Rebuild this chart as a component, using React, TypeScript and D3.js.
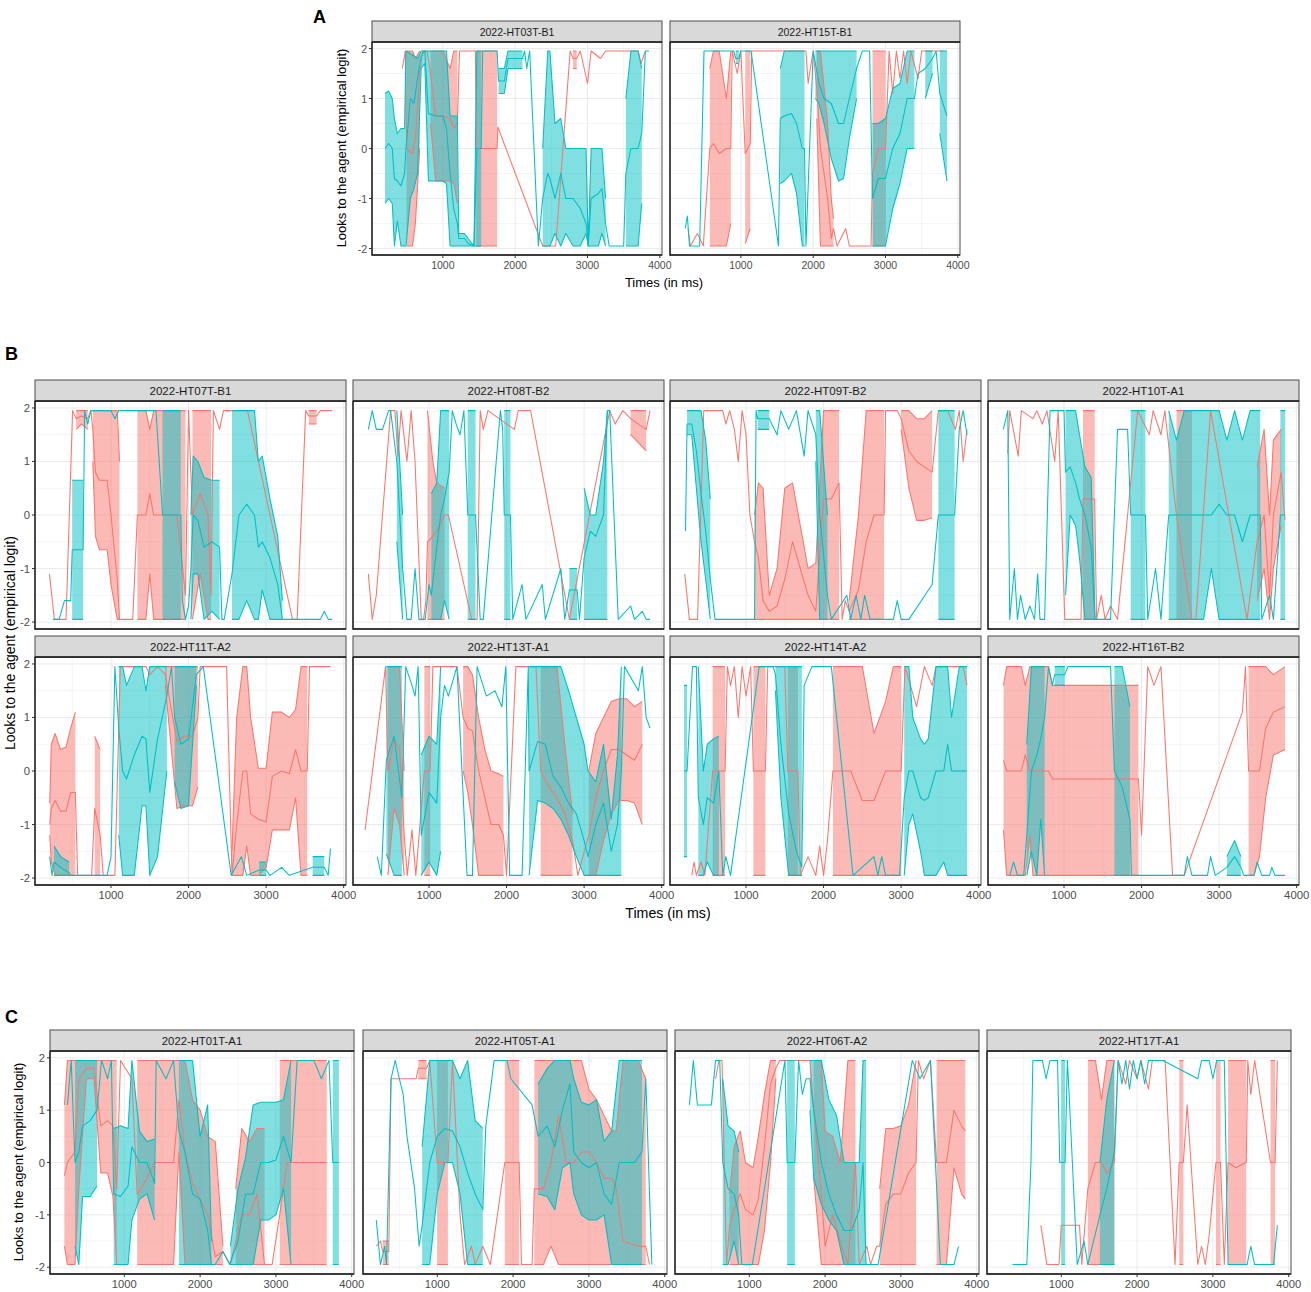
import * as d3 from 'd3';

// empirical-logit ceiling / floor used by the plotted series
const H = 1.95;
const L = -1.95;
type Pt = number[]; // [t, mean] or [t, lo, mean, hi]

// ---- panel A ----
const ht03Red: Pt[] = [[440,1.6],[480,H],[500,L,0,H],[580,L,-0.1,H],[620,-1.5,0.2,1.8],[680,0,1.5,H],[720,H],[780,H],[830,0.5,1.5,H],[900,-0.65,0.65,H],[1000,-0.65,0.65,H],[1100,-0.65,0.6,1.6],[1150,-0.7,0.4,H],[1200,-1.1,0.5,H],[1230,H],[1450,H],[1460,L,0,H],[1600,L,0,H],[1750,L,0,H],[1760,0.43],[2380,L],[2560,L],[2760,H],[2800,1.6,1.8,H],[2850,1.6,1.8,H],[2900,H],[3000,1.3],[3050,H],[3180,1.7,1.8,H],[3250,H],[3700,H],[3740,1.7],[3800,H]];
const ht03Teal: Pt[] = [[200,-1.1,0,1.1],[250,-1.0,0.1,1.15],[300,-1.1,0,1.0],[330,L,-0.6,0.6],[370,-1.45,-0.65,0.3],[420,L,-0.75,0.4],[470,L,-0.5,0.4],[490,L,0,H],[550,-1.0,1.0,1.9],[600,-0.8,0.9,1.85],[650,-0.5,1.4,1.8],[700,1.6,1.85,H],[750,1.7,H,H],[800,-0.65,0.7,H],[900,-0.65,0.65,H],[1000,-0.65,0.65,H],[1050,-0.7,0.4,H],[1100,L,-0.5,0.65],[1150,L,-1.2,0.65],[1200,L,-1.5,0.65],[1220,L,-1.8,-1.7],[1300,L,-1.8,-1.7],[1350,L,-1.9,-1.8],[1430,L,L,L],[1470,L,0,H],[1530,L,0,H],[1550,H],[1750,H],[1770,1.1,1.35,1.6],[1850,1.1,1.35,1.6],[1900,1.6,1.8,H],[2000,1.6,1.8,H],[2100,1.6,1.8,H],[2130,H],[2160,1.6],[2200,H],[2320,L],[2380,L,-1.0,0],[2450,L,-0.5,H],[2480,L,-0.6,H],[2550,-1.7,-1.0,0.5],[2630,L,-0.5,0.6],[2700,-1.7,-1.0,0],[2800,L,-1.0,0],[2900,L,-1.2,0],[2980,-1.7,-1.5,0],[3010,L,L,L],[3050,L,-1.0,0],[3150,L,-0.9,0],[3200,-1.7,-0.8,0],[3250,L,-1.5,-1.0],[3300,L],[3500,L],[3530,L,-0.5,1.0],[3600,L,0,H],[3700,L,0,H],[3750,-1.1,0.3,1.6],[3800,H],[3850,H]];
const ht15Red: Pt[] = [[270,-1.6],[300,L],[400,-1.7],[480,L],[570,L,0,1.6],[620,L,0.1,H],[700,L,-0.1,H],[800,L,0,1.0],[860,-1.5,0,H],[880,H],[950,1.5],[1000,H],[1060,-1.9,-0.1,H],[1130,-1.6,0.1,H],[1150,H],[1900,H],[1930,1.3],[1960,1.6],[2000,H],[2050,0.6,1.2,H],[2100,L,0,H],[2200,L,-1.0,0.5],[2250,L,-1.8,-1.0],[2280,L,-1.6,-1.4],[2330,L],[2450,-1.6],[2500,L],[2800,L],[2820,L,-0.5,H],[2900,L,0,H],[3000,L,0,H],[3050,H],[3100,1.1],[3150,H],[3200,1.4],[3250,H],[3300,1.3],[3350,H],[3450,1.4],[3500,H],[3800,H]];
const ht15Teal: Pt[] = [[230,-1.6],[260,-1.35],[290,L],[430,L],[490,H],[900,H],[930,1.7,1.8,H],[970,1.7,1.8,H],[1000,H],[1140,H],[1520,L],[1545,-0.7,0.6,1.6],[1600,-0.65,0.65,H],[1700,-0.5,0.7,H],[1770,-0.9,0.5,H],[1850,L,0,H],[1880,L,0,H],[1900,L],[2000,H],[2030,1.0,1.7,H],[2080,0.9,1.3,H],[2150,0.5,1.0,H],[2250,-0.2,0.9,H],[2350,-0.65,0.5,H],[2420,-0.6,0.5,H],[2500,0.2,1.0,H],[2600,1.0,1.6,H],[2680,H],[2780,H],[2820,L,-1.0,0.5],[2900,L,-0.6,0.5],[3000,L,-0.6,0.6],[3100,-1.2,0,1.2],[3200,-0.7,0.3,1.3],[3300,0,1.0,H],[3400,0,1.0,H],[3450,1.5],[3550,1.0,1.6,H],[3650,1.5,1.8,H],[3700,H],[3750,0.3,1.1,H],[3850,-0.65,0.65,H]];

// ---- panel B ----
const ht07Red: Pt[] = [[206,-1.1],[270,L],[420,L],[505,H],[550,1.6,1.8,H],[620,1.7,1.85,H],[700,1.6,1.8,H],[740,H],[765,1.0,1.6,H],[800,-0.4,0.8,H],[850,-0.65,0.65,H],[950,-0.65,0.65,H],[1000,-1.3,0,H],[1080,L,-1.2,H],[1110,L,L,1.0],[1150,L],[1280,L],[1340,L,0,H],[1450,L,0,H],[1500,-1.1,0.4,1.6],[1550,L,0,H],[1700,L,0,H],[1850,L,0,H],[1960,L,-1.5,H],[2000,H],[2050,L,0,H],[2150,-1.1,0.4,H],[2250,L,0,H],[2290,L,-1.5,H],[2320,H],[2400,1.6],[2450,H],[2760,H],[3340,L],[3400,L],[3510,H],[3550,1.7,1.85,H],[3650,1.7,1.85,H],[3700,H],[3850,H]];
const ht07Teal: Pt[] = [[250,L],[330,L],[400,-1.6],[480,-1.6],[500,L,-0.65,0.65],[640,L,-0.65,0.65],[660,H],[700,1.7],[740,H],[1000,H],[1050,1.8],[1100,H],[1580,H],[1665,L,0,H],[1900,L,0,H],[1920,-1.6],[1960,L],[2000,-1.7],[2030,L,-1.0,0],[2060,-1.1,0,1.1],[2120,-1.1,-0.1,1.0],[2200,L,-0.6,0.7],[2300,-1.8,-0.5,0.65],[2400,L,-0.6,0.65],[2430,L],[2460,L],[2560,L,-1.1,H],[2650,L,0,H],[2750,-1.6,0.2,H],[2850,L,0,H],[2900,L,-0.6,1.0],[2950,-1.4,-0.5,1.1],[3050,L,-0.8,0.3],[3150,L,-1.3,-0.4],[3210,L,L,-1.6],[3250,L],[3700,L],[3750,L,-1.8,-1.7],[3800,L],[3850,L]];
const ht08Red: Pt[] = [[218,-1.1],[268,L],[320,-1.5],[505,H],[560,H],[600,1.1],[640,H],[715,1.0],[770,H],[820,1.0],[900,L],[930,L],[960,-1.6],[980,L,-0.5,H],[1050,L,-0.4,1.0],[1100,L,-0.3,0.6],[1200,L,0,0.5],[1250,0],[1550,L],[1620,L],[1660,H],[1700,1.6],[1760,H],[2100,1.6],[2150,H],[2310,H],[2810,L],[3330,H],[3400,1.4,1.7,H],[3500,H],[3600,1.5,1.8,H],[3800,1.2,1.6,H],[3850,H]];
const ht08Teal: Pt[] = [[218,1.6],[268,H],[320,1.6],[400,1.6],[480,H],[505,H],[585,-0.5,1.0,H],[660,L,-1.0,0],[715,L],[770,L],[820,-1.0],[870,L],[950,L],[1000,-1.3],[1030,L,-1.5,0.4],[1100,L,-0.6,0.6],[1150,L,0,H],[1200,-1.6,0.3,H],[1260,L,0.8,H],[1300,H],[1350,1.7],[1400,1.5],[1450,H],[1500,L,0,H],[1600,L,0,H],[1660,L],[1700,L],[1920,H],[1950,1.6],[1970,L,0,H],[2050,L,0,H],[2080,L],[2200,-1.3],[2250,L],[2460,-1.3],[2500,L],[2700,-1.0],[2750,L],[2810,L,-1.4,-1.0],[2910,L,-1.4,-1.0],[2940,L],[3000,L,-0.8,0.5],[3080,L,-0.3,0],[3150,L,-0.4,0],[3250,L,0,1.0],[3300,L,H,H],[3330,H],[3440,L],[3600,-1.7],[3650,L],[3750,L,-1.8,-1.6],[3800,L],[3850,L]];
const ht09Red: Pt[] = [[210,-1.1],[270,L],[375,L],[455,H],[700,H],[740,1.7],[790,H],[850,1.6],[900,1.0],[950,H],[1000,1.5],[1050,0],[1110,L,-0.5,0],[1160,L,-0.8,0.6],[1220,L,-1.6,0.5],[1300,L,-1.8,-1.5],[1400,L,-1.7,-1.0],[1500,L,-1.2,0.5],[1600,L,-0.5,0.6],[1700,L,-1.0,-0.2],[1800,L,-1.5,-1.0],[1900,L,-1.8,-0.9],[2000,L,0.3,H],[2100,L,0.3,H],[2200,L,0.6,H],[2240,L],[2280,-1.6],[2330,L,-1.8,-1.6],[2450,L,-1.4,0],[2550,L,-0.5,H],[2650,L,0,H],[2780,L,0,H],[2800,H],[2950,H],[3000,1.6,1.8,H],[3100,0.5,1.2,H],[3200,-0.1,1.0,1.8],[3300,-0.1,0.9,1.8],[3400,-0.05,0.8,H],[3480,H],[3600,H],[3700,1.6],[3750,H],[3800,1.0],[3850,1.6]];
const ht09Teal: Pt[] = [[220,-0.3],[240,1.5,1.7,H],[300,1.5,1.7,H],[360,0.5,1.2,H],[420,-0.5,0.4,H],[480,-1.2,-0.3,1.4],[540,L,-1.2,0.3],[600,L],[1110,L],[1130,H],[1150,1.6,1.8,H],[1300,1.6,1.8,H],[1400,1.5],[1450,H],[1550,1.6],[1650,H],[1750,1.1],[1800,H],[1900,1.0,1.5,H],[1950,L,0,H],[2050,L,-1.5,0],[2100,L],[2300,-1.5],[2350,L],[2420,-1.5],[2480,L],[2530,-1.5],[2600,L],[2900,L],[2950,-1.6],[3000,L],[3100,L],[3400,-1.3],[3480,L,0,H],[3600,L,0,H],[3690,L,0,H],[3750,1.6],[3800,H],[3850,1.5]];
const ht10Red: Pt[] = [[275,1.15],[300,H],[410,1.1],[450,H],[600,1.6,1.8,H],[650,H],[720,1.7],[780,H],[880,1.0],[925,H],[1010,L],[1220,L],[1245,L,0.3,H],[1395,L,0.3,H],[1420,L],[1480,-1.5],[1530,L],[1600,-1.7],[1690,L],[1950,H],[2100,1.5],[2150,H],[2250,1.5],[2300,H],[2450,L,0,H],[2550,L,-1.0,H],[2650,L,L,H],[2700,L],[2890,H],[3360,L],[3490,-1.6,-0.5,0.9],[3580,-1.0,0,1.6],[3650,L,-1.5,0],[3700,-1.0,0,1.4],[3800,-0.2,0.8,1.6],[3850,-0.1]];
const ht10Teal: Pt[] = [[218,1.6],[275,H],[300,L],[360,-1.0],[400,L],[440,-1.5],[500,L],[560,-1.7],[620,L],[660,-1.1],[690,L],[750,L],[820,H],[1000,H],[1020,-1.5,0.8,H],[1080,0,0.9,H],[1150,-0.2,0.6,H],[1200,-0.8,0.3,1.5],[1270,L,0,0.9],[1350,L,-0.6,0.7],[1400,L,L,L],[1600,L],[1690,1.6],[1820,1.6],[1860,L,0,H],[2050,L,0,H],[2080,L],[2180,-1.0],[2250,L],[2350,L,0,H],[2450,L,0,1.4],[2550,L,0,H],[2800,L,0,H],[2900,-1.0,0,H],[3000,L,0.2,H],[3100,L,0,1.4],[3200,L,0,H],[3300,L,-0.5,1.4],[3400,L,0,H],[3530,L,0,H],[3550,L],[3650,-1.5],[3700,L],[3790,L,0,H],[3850,L,0,H]];
const ht11Red: Pt[] = [[210,-1.2,-1.0,-0.6],[230,-1.7,-0.7,0.5],[280,L,-0.55,0.7],[350,L,-0.75,0.4],[420,L,-0.75,0.45],[480,L,-0.4,0.8],[540,L,-0.4,1.1],[570,L],[750,L],[790,L,-0.7,0.65],[860,L,-1.2,0.4],[900,L],[1050,L],[1120,H],[1450,H],[1500,1.6,1.8,H],[1600,H],[1700,1.6,1.8,H],[1850,-0.7,0.55,H],[1950,-0.65,0.65,H],[2050,-0.65,0.65,H],[2120,-0.3,1.0,H],[2150,H],[2490,H],[2560,L,L,-1.5],[2620,L,-1.0,1.0],[2700,L,0,H],[2750,-1.4,0,H],[2800,L,-0.8,1.0],[2900,L,-0.9,0.05],[3000,-1.8,-0.95,0.05],[3080,-1.1,-0.1,1.1],[3200,-1.1,0,1.1],[3300,-1.1,-0.05,1.0],[3380,-0.5,0.4,1.15],[3450,L,0,H],[3530,L,0,H],[3560,H],[3830,H]];
const ht11Teal: Pt[] = [[210,-1.6],[240,L],[265,L,-1.7,-1.4],[350,L,-1.8,-1.6],[460,L,-1.9,-1.7],[480,L],[950,L],[1000,-1.6],[1050,H],[1100,-1.2,0.8,H],[1150,L,0,H],[1200,L,-0.15,1.6],[1300,L,0.3,H],[1400,-0.65,0.65,H],[1450,-0.65,0.6,1.5],[1500,L,-0.4,H],[1600,-1.6,0.6,H],[1720,0,1.4,H],[1780,H],[1820,-0.2,1.0,H],[1900,-0.7,0.5,H],[2000,-0.65,0.6,H],[2100,1.6,1.8,H],[2190,H],[2550,L],[2680,-1.6],[2750,L],[2910,L,-1.85,-1.7],[3000,L,-1.85,-1.7],[3050,L],[3200,-1.8],[3300,L],[3600,L,-1.8,-1.6],[3750,L,-1.8,-1.6],[3800,L],[3830,-1.45]];
const ht13Red: Pt[] = [[176,-1.1],[440,H],[470,L,0,H],[550,-0.7,0.6,H],[620,-1.0,0.4,H],[680,L,-1.2,0],[720,L],[780,-1.1],[830,L],[940,L,0,H],[1015,L,0,H],[1050,H],[1360,H],[1440,0,1.0,H],[1500,-0.4,0.8,H],[1560,-1.0,0.75,1.8],[1640,L,0,1.0],[1720,L,-0.5,0.4],[1800,L,-1.0,0],[1900,L,-1.0,-0.05],[1960,L,-1.2,-0.1],[2000,L],[2120,H],[2380,H],[2440,L,0,H],[2550,L,-0.3,H],[2650,L,-0.5,H],[2750,L,-0.8,0.5],[2850,L,-1.3,-0.8],[2920,L],[3060,L,-1.2,0],[3150,L,-0.5,0.7],[3250,-1.3,0,1.0],[3350,-0.8,0.4,1.3],[3450,-0.55,0.4,1.35],[3550,-0.55,0.3,1.35],[3650,-0.6,0.2,1.2],[3750,-1.0,0.5,1.3]];
const ht13Teal: Pt[] = [[333,-1.6],[385,L],[450,-1.55,0.2,H],[550,L,0.65,H],[650,L,-0.5,H],[700,H],[780,1.6],[820,1.4],[860,H],[900,L,-1.2,0.3],[1000,-1.7,-0.4,0.65],[1100,L,-0.6,0.5],[1150,-1.5,1.0,H],[1200,1.6],[1250,1.4],[1360,H],[1490,L],[1560,L],[1620,H],[1740,1.4],[1850,1.5],[1940,1.2],[1990,H],[2040,L],[2200,L],[2280,H],[2290,L,0,H],[2400,-0.55,0.55,H],[2500,-0.6,0.5,H],[2600,-0.7,-0.1,H],[2700,-0.9,-0.3,H],[2800,-1.2,-0.6,1.5],[2900,-1.6,-0.8,1.0],[3000,L,-1.3,0.5],[3050,L,-1.6,0],[3150,L,-1.0,-0.2],[3250,L,-0.6,0.5],[3350,L,-1.5,-0.9],[3430,L,-1.0,0.3],[3480,L,0,H],[3520,H],[3700,1.5],[3750,H],[3800,1.0],[3850,0.8]];
const ht14Red: Pt[] = [[300,L],[330,-1.7],[360,L],[420,-1.7],[470,L],[570,L,0,H],[730,L,0,H],[760,H],[800,1.6],[850,H],[900,1.0],[950,H],[1000,1.4],[1060,H],[1095,L,0,H],[1250,L,0,H],[1280,H],[1500,H],[1540,L,0,H],[1670,L,0,H],[1700,L],[1800,-1.6],[1900,L],[1950,-1.4],[2000,L],[2050,-1.3],[2120,L,0,H],[2250,L,0,H],[2350,L,0,H],[2500,L,-0.55,H],[2650,L,-0.55,0.7],[2800,L,0,1.3],[2900,L,0,H],[3000,L,0,H],[3050,H],[3200,1.2],[3300,H],[3400,1.6],[3450,H],[3800,H],[3850,1.6]];
const ht14Teal: Pt[] = [[200,-1.6,0,1.6],[240,-1.6,0,1.6],[310,H],[360,H],[385,L,-0.5,H],[450,L,-1.0,0],[500,-1.7,-0.5,0.5],[580,L,-0.6,0.6],[650,L,0,0.65],[700,L],[740,-1.6],[800,L],[1170,H],[1350,H],[1380,1.5,1.8,H],[1450,-0.5,0.5,H],[1550,L,-0.8,H],[1650,L,-1.5,H],[1720,L,-1.8,H],[1750,1.6],[1850,H],[2100,H],[2380,L],[2650,-1.6],[2700,L],[2750,-1.6],[2800,L],[2980,L],[3040,L,-0.5,H],[3100,-1.0,0,H],[3150,-0.8,0,1.0],[3250,-1.5,-0.5,0.6],[3300,L,-0.55,0.5],[3350,L,-0.5,0.6],[3450,L,0,H],[3550,-1.7,0,H],[3600,L,0.5,H],[3650,L,0,1.0],[3750,L,0,H],[3850,L,0,H]];
const ht16Red: Pt[] = [[220,-1.1,0.2,1.6],[260,L,0,H],[400,L,0,H],[450,L,0,H],[500,L,0.3,1.6],[560,-1.2,0,H],[600,L,0,H],[800,L,0,H],[850,L,-0.15,1.6],[1000,L,-0.15,1.6],[1500,L,-0.15,1.6],[1960,L,-0.15,1.6],[2000,-1.2],[2080,H],[2160,1.6],[2250,H],[2400,L],[2550,L],[3300,1.1],[3340,H],[3380,L,0,H],[3450,L,0,H],[3520,-1.6,0,H],[3600,-0.5,0.8,H],[3700,0.3,1.1,1.8],[3850,0.4,1.2,H]];
const ht16Teal: Pt[] = [[300,L],[350,L,-1.7,-1.5],[400,L],[480,L],[520,L,-1.2,0.5],[580,-1.5,0,H],[650,L,0.3,H],[700,-0.9,0.6,H],[750,L,1.0,H],[800,H],[850,1.6],[880,1.6,1.8,H],[1010,1.6,1.8,H],[1050,H],[1600,H],[1650,L,0,H],[1750,L,-0.3,H],[1850,L,-0.9,1.2],[1870,L],[2550,L],[2590,-1.6],[2650,L],[2850,L],[2890,-1.6],[2950,L],[3100,L,-1.8,-1.6],[3200,L,-1.6,-1.3],[3280,L,-1.8,-1.6],[3320,L],[3450,L],[3490,-1.7],[3550,L],[3650,L],[3680,-1.8],[3720,L],[3850,L]];

// ---- panel C ----
const ht01Red: Pt[] = [[210,-1.6,-0.25,1.1],[250,L,0,H],[350,L,0.2,H],[400,-0.5,1.6,H],[500,1.6,1.8,H],[600,1.6,1.8,H],[690,-0.2,0.7,H],[780,-0.2,0.8,H],[850,-0.65,0.7,H],[900,L,-0.5,H],[950,H],[1100,1.6],[1170,L,-0.6,H],[1300,L,-0.3,H],[1400,L,0,H],[1550,L,0,H],[1650,L,0,H],[1720,0.2,1.2,H],[1800,L,0.2,H],[1900,L,-0.4,1.2],[2000,L,-0.7,1.0],[2100,L,-1.0,0.5],[2200,L,-1.8,0.4],[2300,L,-1.7,-1.6],[2400,L],[2470,L,-1.5,-0.5],[2550,L,-1.0,0.65],[2650,L,-1.0,0.4],[2750,L,-0.6,0.65],[2850,L,L,0.65],[2950,L],[3050,L,-1.0,H],[3150,L,0,H],[3300,L,0,H],[3500,L,0,H],[3670,L,0,H]];
const ht01Teal: Pt[] = [[250,1.1],[300,H],[350,-1.6,0,H],[400,L,0.2,H],[450,-0.65,0.7,H],[550,-0.65,0.8,H],[640,-0.45,1.0,H],[700,H],[780,1.6],[830,H],[860,L,-0.6,0.65],[950,L,-0.65,0.7],[1050,L,-0.45,0.65],[1100,-1.1,0.3,H],[1200,-0.7,0,0.6],[1300,-0.6,0,0.4],[1400,-1.1,-0.4,0.45],[1420,H],[1550,1.6],[1650,H],[1720,L,0.6,H],[1800,L,0.2,H],[1900,L,-0.6,H],[2000,L,-0.7,0.5],[2100,L,-1.3,1.1],[2150,L,L,-1.5],[2200,L],[2300,-1.7],[2390,L],[2400,L,-1.9,-1.6],[2500,L,-1.5,-0.5],[2600,L,-0.6,0.1],[2700,L,-0.6,1.1],[2800,-1.1,0,1.15],[2900,-1.1,0,1.15],[3000,-1.0,0.05,1.15],[3100,-0.5,0.5,1.2],[3200,L,0,H],[3280,H],[3500,H],[3600,1.6],[3700,H],[3750,L,0,H],[3830,L,0,H]];
const ht05Red: Pt[] = [[195,-1.6],[250,-1.5],[280,L,-1.7,-1.5],[360,L,-1.7,-1.5],[390,1.6],[720,1.6],[750,1.6,1.8,H],[860,1.6,1.8,H],[900,H],[1000,L,0,H],[1140,L,0,H],[1200,H],[1300,-1.0],[1360,L],[1450,-1.6],[1500,L],[1600,-1.6],[1700,L],[1890,L,0,H],[2080,L,0,H],[2110,L],[2250,L],[2280,L,-0.5,H],[2400,L,-0.5,H],[2500,-1.6,0,H],[2600,L,0.9,H],[2700,L,0,H],[2800,L,0,H],[2900,L,0.2,H],[3000,L,0.2,1.4],[3100,L,0,1.2],[3200,L,-0.3,0.9],[3300,L,-0.3,0.6],[3360,L,-0.5,0.6],[3450,L,-1.5,H],[3650,L,-1.6,H],[3750,L,-1.6,1.6],[3800,L]];
const ht05Teal: Pt[] = [[195,-1.1],[250,L],[305,-1.6],[330,L],[390,1.6],[445,H],[500,1.6],[550,1.3],[600,0.5],[700,-0.5],[760,-1.6],[800,L,-1.2,0.3],[900,L,0,H],[1000,-0.6,0.5,H],[1100,0,0.65,H],[1200,0,0.6,H],[1300,-0.6,0.3,1.6],[1400,L,-0.2,H],[1500,L,-0.6,0.8],[1600,L,-0.9,0.65],[1640,0.7],[1750,H],[1920,H],[1970,1.6],[2250,1.1],[2330,-0.6,0.5,1.5],[2450,-0.65,0.7,1.8],[2550,-0.9,0.3,H],[2650,-0.1,1.0,H],[2750,0,1.5,H],[2800,-0.6,0.2,1.6],[2900,-1.0,0,1.15],[3000,-1.1,-0.1,1.1],[3100,-1.1,0,1.2],[3200,-1.0,-0.6,0.4],[3300,L,-0.8,0.6],[3400,L,0,H],[3600,L,0,H],[3700,L,0.2,H],[3750,1.6],[3830,L]];
const ht06Red: Pt[] = [[555,1.6],[600,H],[640,H],[700,L],[740,L,-1.2,-0.6],[800,L,-0.9,0.3],[880,L,-0.6,0.6],[950,L,-0.9,0],[1050,L,-1.0,-0.1],[1120,L,-0.7,0.5],[1200,-1.3,0.3,1.3],[1280,0,1.5,H],[1350,1.6,1.8,H],[1400,H],[1800,H],[1850,-0.3,1.0,H],[1950,L,-0.6,H],[2000,L,-1.6,0.6],[2100,L,-1.0,0.5],[2200,L,-1.5,0],[2300,L,L,H],[2400,L,0,H],[2450,L],[2550,-1.6],[2600,L],[2680,-1.6],[2720,L,-1.6,-0.5],[2800,L,-0.8,0.65],[2900,L,-0.6,0.65],[3000,L,-0.6,0.7],[3100,L,-0.2,1.1],[3200,L,0,H],[3230,H],[3300,1.6],[3390,H],[3470,L,0,H],[3600,L,0,H],[3700,-0.1,1.0,H],[3800,-0.6,0.7,H],[3850,-0.7,0.6,H]];
const ht06Teal: Pt[] = [[210,1.1],[262,H],[315,1.1],[500,1.1],[555,H],[610,H],[650,L,0,1.6],[720,L,-0.5,0.7],[800,-1.5,-0.6,0.6],[860,L,-1.0,0.2],[900,L],[1040,L],[1470,H],[1500,L,0,H],[1600,L,0,H],[1650,H],[1700,1.3],[1750,1.6],[1800,1.0,1.6,H],[1850,-0.3,1.0,H],[1950,-0.8,0,H],[2050,-1.1,-0.6,1.2],[2150,-1.3,-1.0,0.9],[2250,L,-1.3,0],[2350,L,-1.3,0],[2450,L,-0.9,0],[2500,L,0,H],[2540,L,L,H],[2560,L],[2700,L],[3150,H],[3250,1.6],[3390,H],[3520,L],[3700,L],[3760,-1.6]];
const ht17Red: Pt[] = [[730,-1.2],[810,L],[970,L],[1000,-1.2],[1240,-1.2],[1270,L],[1350,L,-0.5,H],[1450,L,0,H],[1530,L,0,1.2],[1600,L,-0.2,H],[1700,L,0,H],[1750,H],[1850,1.5],[1900,H],[2000,1.6],[2050,H],[2150,1.4],[2200,H],[2370,H],[2500,L],[2555,L,0,H],[2610,L,0,H],[2660,1.1],[2800,L],[2850,-1.6],[2900,L],[2950,-1.4],[3040,L,0,H],[3100,L,0,H],[3150,L],[3200,L,0,H],[3300,L,-0.1,H],[3440,L,0,H],[3460,H],[3500,1.3],[3550,H],[3760,L,0,H],[3820,L,0,H],[3850,H]];
const ht17Teal: Pt[] = [[355,L],[545,L],[600,0],[625,H],[750,H],[800,1.6],[850,H],[950,H],[980,0],[1000,L,0,H],[1050,L,0,H],[1080,H],[1110,1.1],[1210,L],[1300,-1.5],[1350,L],[1510,L,-1.0,0],[1600,L,-0.5,1.2],[1700,L,0.2,H],[1750,H],[1800,1.5],[1850,H],[1900,1.4],[1950,H],[2000,1.6],[2050,H],[2100,1.5],[2150,H],[2340,H],[2800,1.6],[2850,H],[2950,H],[3000,1.6],[3050,H],[3150,H],[3200,L],[3450,L],[3500,-1.6],[3550,L],[3800,L],[3850,-1.2]];

const xTicks = [1000, 2000, 3000, 4000];
const xMinor = [500, 1500, 2500, 3500];
const yTicks = [-2, -1, 0, 1, 2];
const yMinor = [-1.5, -0.5, 0.5, 1.5];

const RED = '#F8766D';
const TEAL = '#00BFC4';
const FONT = "'Liberation Sans', Arial, sans-serif";
const X_DOMAIN = [20, 4030];
const Y_DOMAIN = [-2.13, 2.13];

type Fig = {
  panels: [string, Pt[], Pt[]][];
  lefts: number[];
  w: number;
  tops: number[];
  h: number;
  stripH: number;
  fs: number;
  stripFs: number;
};

const figA: Fig = {
  panels: [['2022-HT03T-B1', ht03Red, ht03Teal], ['2022-HT15T-B1', ht15Red, ht15Teal]],
  lefts: [372, 670], w: 290, tops: [42], h: 213, stripH: 21, fs: 10.5, stripFs: 10.5,
};
const figB: Fig = {
  panels: [
    ['2022-HT07T-B1', ht07Red, ht07Teal], ['2022-HT08T-B2', ht08Red, ht08Teal],
    ['2022-HT09T-B2', ht09Red, ht09Teal], ['2022-HT10T-A1', ht10Red, ht10Teal],
    ['2022-HT11T-A2', ht11Red, ht11Teal], ['2022-HT13T-A1', ht13Red, ht13Teal],
    ['2022-HT14T-A2', ht14Red, ht14Teal], ['2022-HT16T-B2', ht16Red, ht16Teal],
  ],
  lefts: [35, 353, 670, 988], w: 311, tops: [401, 657], h: 228, stripH: 21, fs: 11.3, stripFs: 11.5,
};
const figC: Fig = {
  panels: [
    ['2022-HT01T-A1', ht01Red, ht01Teal], ['2022-HT05T-A1', ht05Red, ht05Teal],
    ['2022-HT06T-A2', ht06Red, ht06Teal], ['2022-HT17T-A1', ht17Red, ht17Teal],
  ],
  lefts: [50, 363, 675, 987], w: 304, tops: [1051], h: 223, stripH: 21, fs: 11.2, stripFs: 11.3,
};

function Facet({ fig, i }: { fig: Fig; i: number }) {
  const [title, red, teal] = fig.panels[i];
  const ncol = fig.lefts.length;
  const col = i % ncol;
  const row = Math.floor(i / ncol);
  const left = fig.lefts[col];
  const top = fig.tops[row];
  const x = d3.scaleLinear().domain(X_DOMAIN).range([left, left + fig.w]);
  const y = d3.scaleLinear().domain(Y_DOMAIN).range([top + fig.h, top]);
  const rib = (d: Pt) => d.length === 4;
  const mean = (d: Pt) => (d.length === 4 ? d[2] : d[1]);
  const area = d3.area<Pt>().defined(rib).x((d) => x(d[0])).y0((d) => y(d[1])).y1((d) => y(d[3]));
  const edge = (k: number) => d3.line<Pt>().defined(rib).x((d) => x(d[0])).y((d) => y(d[k]));
  const line = d3.line<Pt>().x((d) => x(d[0])).y((d) => y(mean(d)));
  const bottom = top + fig.h;
  const showY = col === 0;
  const showX = row === fig.tops.length - 1;
  const series: [Pt[], string][] = [[red, RED], [teal, TEAL]];

  return (
    <g>
      {xMinor.map((t) => <line key={'xm' + t} x1={x(t)} x2={x(t)} y1={top} y2={bottom} stroke="#ebebeb" strokeWidth={0.5} />)}
      {yMinor.map((v) => <line key={'ym' + v} x1={left} x2={left + fig.w} y1={y(v)} y2={y(v)} stroke="#ebebeb" strokeWidth={0.5} />)}
      {xTicks.map((t) => <line key={'xg' + t} x1={x(t)} x2={x(t)} y1={top} y2={bottom} stroke="#ebebeb" strokeWidth={1} />)}
      {yTicks.map((v) => <line key={'yg' + v} x1={left} x2={left + fig.w} y1={y(v)} y2={y(v)} stroke="#ebebeb" strokeWidth={1} />)}
      {series.map(([d, c]) => <path key={'a' + c} d={area(d) || ''} fill={c} fillOpacity={0.5} stroke="none" />)}
      {series.map(([d, c]) => (
        <g key={'l' + c} fill="none" stroke={c} strokeWidth={1.05} strokeLinejoin="round">
          <path d={edge(1)(d) || ''} />
          <path d={edge(3)(d) || ''} />
          <path d={line(d) || ''} />
        </g>
      ))}
      <rect x={left} y={top} width={fig.w} height={fig.h} fill="none" stroke="#4d4d4d" strokeWidth={1} />
      <path d={`M${left},${top}V${bottom}H${left + fig.w}`} fill="none" stroke="#1a1a1a" strokeWidth={1.3} />
      <rect x={left} y={top - fig.stripH} width={fig.w} height={fig.stripH} fill="#d9d9d9" stroke="#4d4d4d" strokeWidth={1} />
      <line x1={left} x2={left + fig.w} y1={top} y2={top} stroke="#1a1a1a" strokeWidth={1.3} />
      <text x={left + fig.w / 2} y={top - fig.stripH / 2} textAnchor="middle" dominantBaseline="central" fontSize={fig.stripFs} fill="#1a1a1a">{title}</text>
      {showY && yTicks.map((v) => (
        <g key={'yt' + v}>
          <line x1={left - 3} x2={left} y1={y(v)} y2={y(v)} stroke="#333" />
          <text x={left - 5} y={y(v)} textAnchor="end" dominantBaseline="central" fontSize={fig.fs} fill="#4d4d4d">{v}</text>
        </g>
      ))}
      {showX && xTicks.map((t) => (
        <g key={'xt' + t}>
          <line x1={x(t)} x2={x(t)} y1={bottom} y2={bottom + 3} stroke="#333" />
          <text x={x(t)} y={bottom + 6} textAnchor="middle" dominantBaseline="hanging" fontSize={fig.fs} fill="#4d4d4d">{t}</text>
        </g>
      ))}
    </g>
  );
}

function Figure({ fig }: { fig: Fig }) {
  return <g>{fig.panels.map((_, i) => <Facet key={i} fig={fig} i={i} />)}</g>;
}

const Y_TITLE = 'Looks to the agent (empirical logit)';

export default function App() {
  return (
    <svg width={1311} height={1292} viewBox="0 0 1311 1292" fontFamily={FONT}
      style={{ position: 'absolute', left: 0, top: 0, background: '#fff' }}>
      <rect width={1311} height={1292} fill="#fff" />
      <text x={313} y={23} fontSize={18} fontWeight="bold">A</text>
      <text x={5} y={360} fontSize={18} fontWeight="bold">B</text>
      <text x={5} y={1023} fontSize={18} fontWeight="bold">C</text>

      <Figure fig={figA} />
      <Figure fig={figB} />
      <Figure fig={figC} />

      <text x={664} y={287} textAnchor="middle" fontSize={13}>Times (in ms)</text>
      <text x={668} y={918} textAnchor="middle" fontSize={14.2}>Times (in ms)</text>

      <text transform="translate(341,148) rotate(-90)" textAnchor="middle" dominantBaseline="central" fontSize={13}>{Y_TITLE}</text>
      <text transform="translate(10,643) rotate(-90)" textAnchor="middle" dominantBaseline="central" fontSize={14}>{Y_TITLE}</text>
      <text transform="translate(18,1162) rotate(-90)" textAnchor="middle" dominantBaseline="central" fontSize={13}>{Y_TITLE}</text>
    </svg>
  );
}
